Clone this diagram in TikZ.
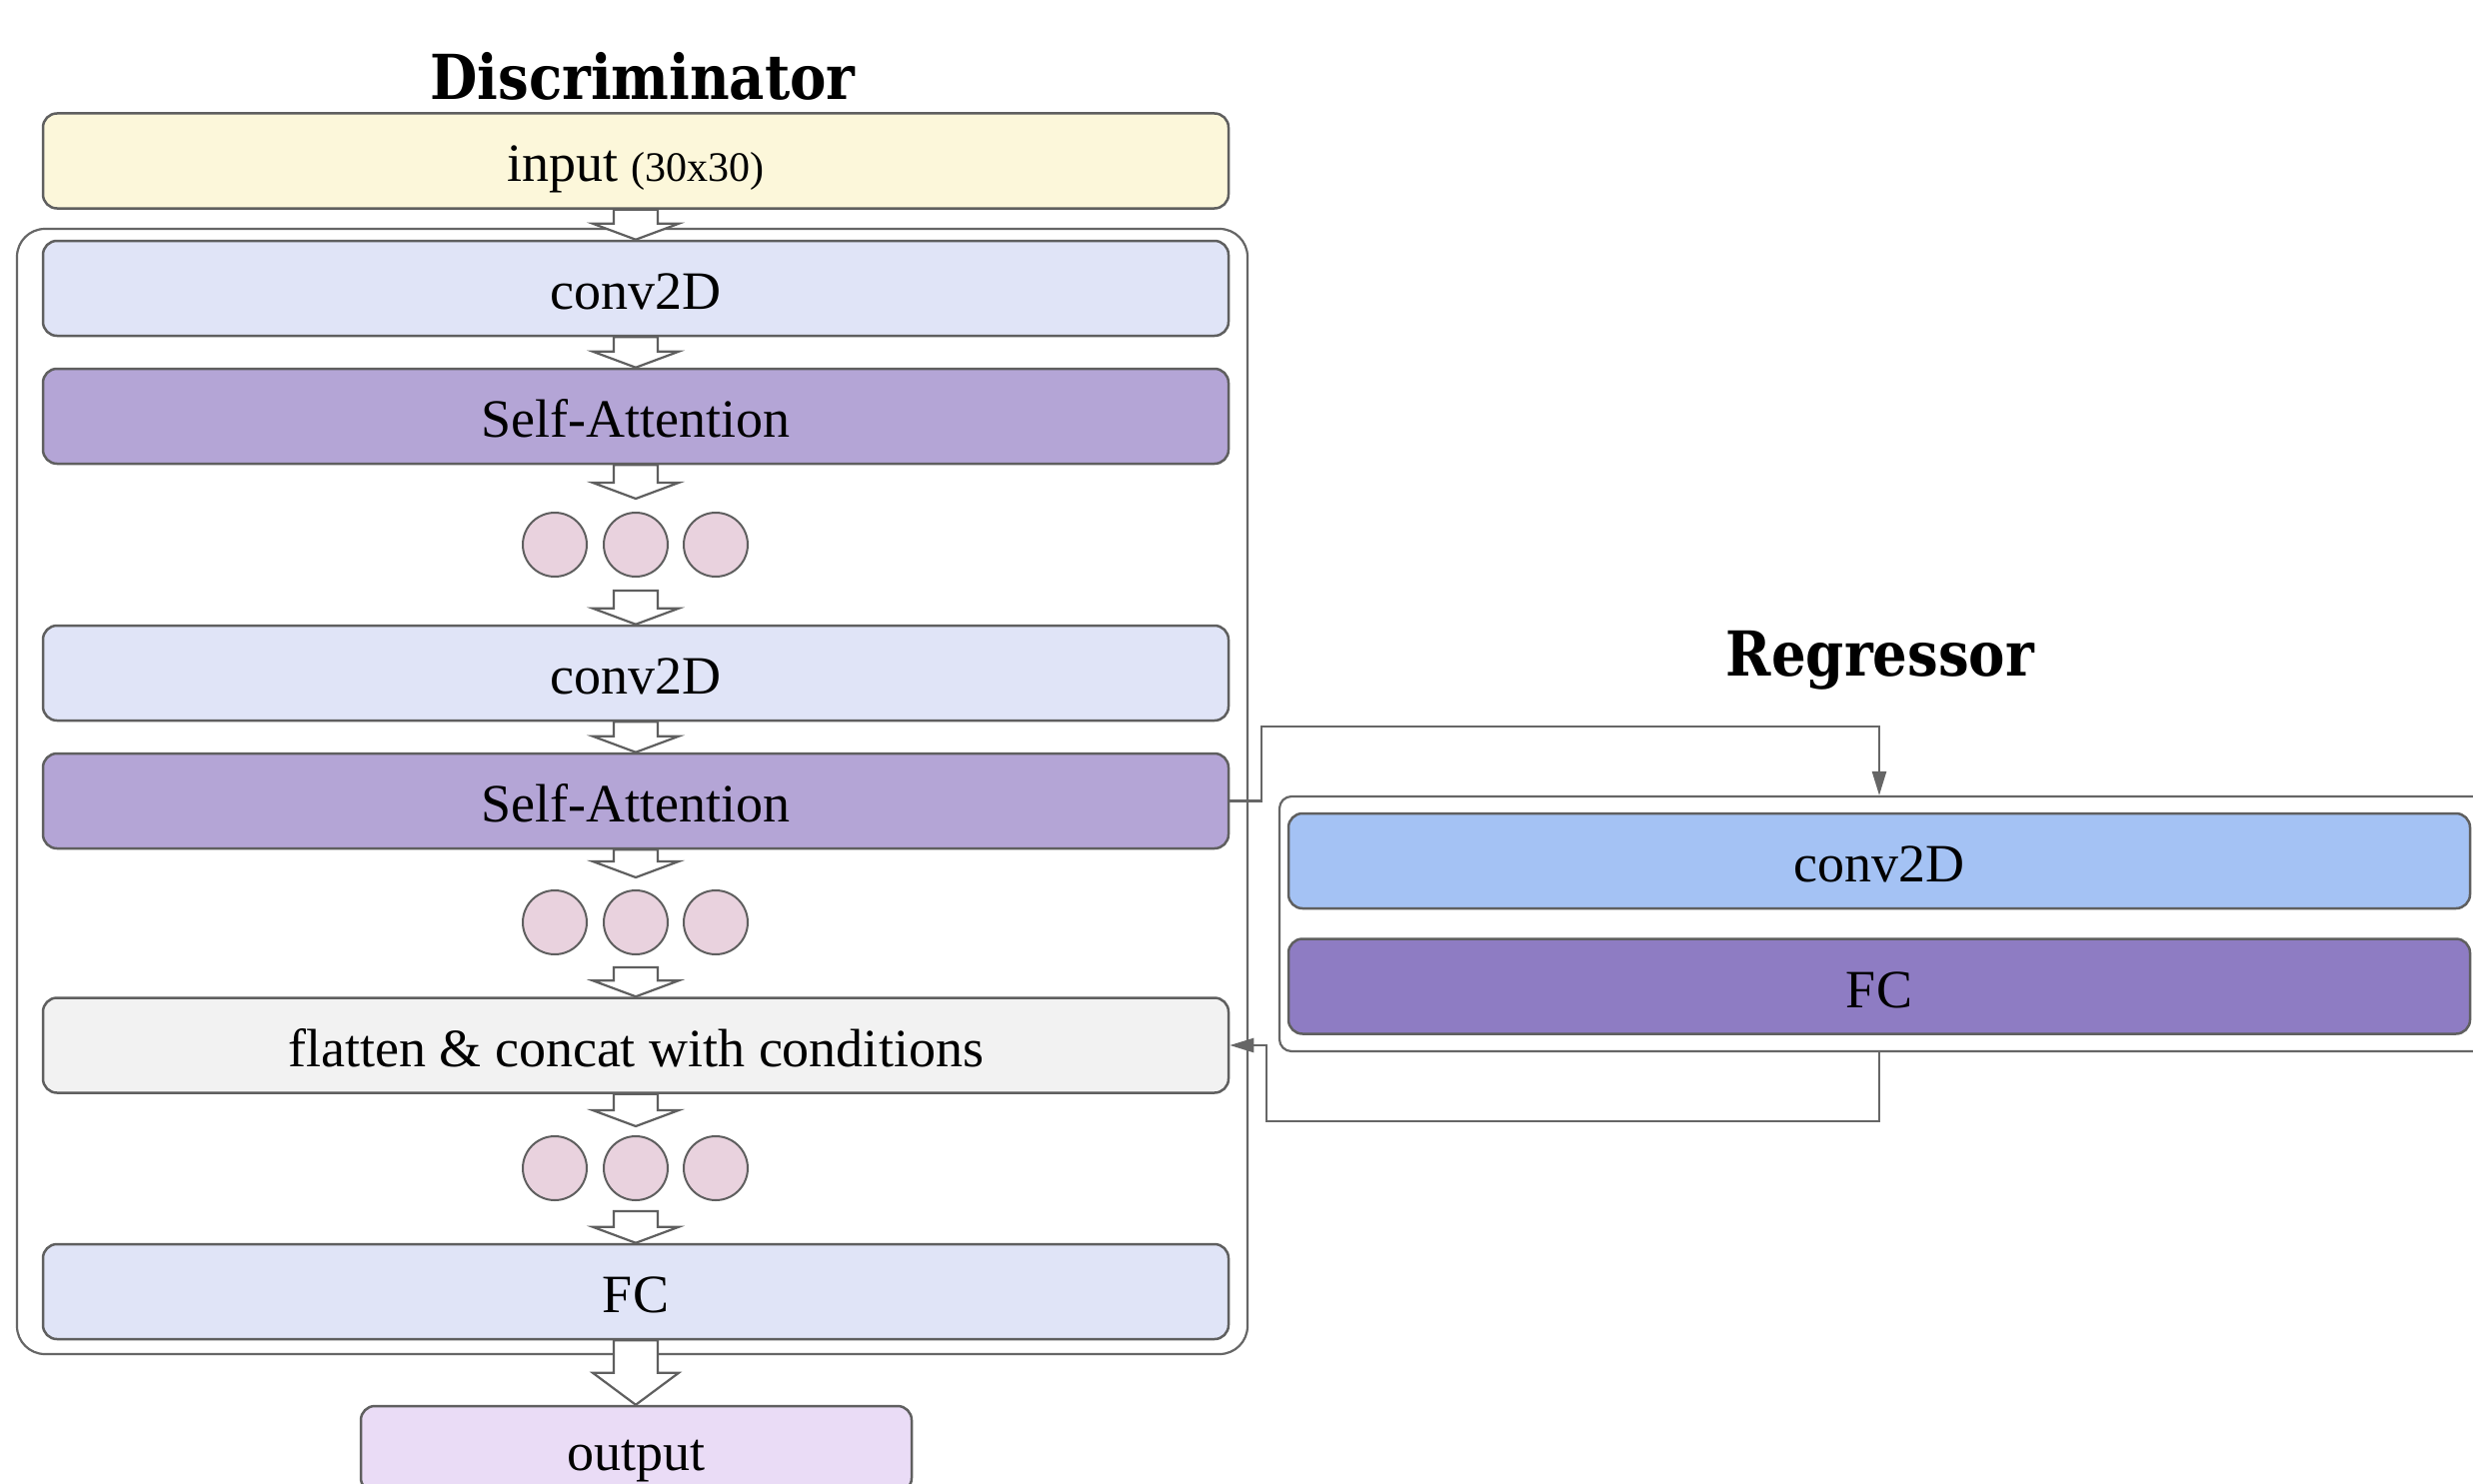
\documentclass[tikz,border=0pt]{standalone}
\usepackage{fontspec}
\setmainfont{Liberation Serif}
\newfontfamily\titlefont[FakeStretch=0.88]{DejaVu Serif}
\usetikzlibrary{calc,arrows.meta}
\definecolor{bordc}{HTML}{5F5F5F}
\definecolor{linec}{HTML}{666666}
\definecolor{inputc}{HTML}{FCF7DA}
\definecolor{convc}{HTML}{E0E4F7}
\definecolor{attc}{HTML}{B4A5D6}
\definecolor{dotc}{HTML}{E9D2DE}
\definecolor{flatc}{HTML}{F2F2F2}
\definecolor{outc}{HTML}{EADCF6}
\definecolor{rconvc}{HTML}{A4C2F4}
\definecolor{rfcc}{HTML}{8E7CC3}
\newcommand\hollowarrow[3]{%
  \draw[harrow] let \p1=#1, \p2=#2 in
    ({\x1-22pt},\y1) -- ({\x1-22pt},{\y2+#3}) -- ({\x1-43pt},{\y2+#3}) -- (\x1,\y2)
    -- ({\x1+43pt},{\y2+#3}) -- ({\x1+22pt},{\y2+#3}) -- ({\x1+22pt},\y1) -- cycle;}
\begin{document}
\begin{tikzpicture}[x=1pt,y=-1pt,
  box/.style={draw=bordc, line width=2.5pt, rounded corners=14pt, minimum width=1186pt,
    minimum height=95pt, inner sep=0pt, text height=42pt, text depth=0pt,
    font=\fontsize{54}{62}\selectfont},
  cont/.style={draw=linec, line width=2.2pt},
  dot/.style={circle, draw=bordc, line width=2pt, fill=dotc, minimum size=64pt, inner sep=0pt},
  harrow/.style={draw=bordc, fill=white, line width=2.2pt, line join=miter},
  conn/.style={draw=linec, line width=2.5pt, -{Triangle[length=24pt,width=14pt]}},
  ttl/.style={font=\titlefont\bfseries\fontsize{62}{70}\selectfont}]
\useasboundingbox (0,0) rectangle (2474,1485);
\fill[white] (0,0) rectangle (2474,1485);
% titles
\node[ttl] (tdisc) at (643,76) {Discriminator};
\node[ttl] (treg) at (1881,661) {Regressor};
% containers
\node[cont, rounded corners=28pt, minimum width=1231pt, minimum height=1126pt] (dcont) at (632.5,792) {};
\node[cont, rounded corners=12pt, minimum width=1220pt, minimum height=255pt] (regc) at (1890,924.5) {};
% discriminator boxes
\node[box, fill=inputc] (input) at (636,161) {input {\fontsize{42}{50}\selectfont(30x30)}};
\node[box, fill=convc] (conv1) at (636,288.5) {conv2D};
\node[box, fill=attc] (sa1) at (636,416.5) {Self-Attention};
\node[dot] (c1a) at (555,545) {};
\node[dot] (c1b) at (636,545) {};
\node[dot] (c1c) at (716,545) {};
\node[box, fill=convc] (conv2) at (636,673.5) {conv2D};
\node[box, fill=attc] (sa2) at (636,801.5) {Self-Attention};
\node[dot] (c2a) at (555,923) {};
\node[dot] (c2b) at (636,923) {};
\node[dot] (c2c) at (716,923) {};
\node[box, fill=flatc] (flat) at (636,1046) {flatten \& concat with conditions};
\node[dot] (c3a) at (555,1169) {};
\node[dot] (c3b) at (636,1169) {};
\node[dot] (c3c) at (716,1169) {};
\node[box, fill=convc] (fc) at (636,1292.5) {FC};
\node[box, fill=outc, minimum width=551pt, minimum height=86pt] (out) at (636.5,1450) {output};
% regressor boxes
\node[box, fill=rconvc, minimum width=1182pt] (rconv) at (1880,861.5) {conv2D};
\node[box, fill=rfcc, minimum width=1182pt] (rfc) at (1880,987) {FC};
% hollow arrows
\hollowarrow{(input.south)}{(conv1.north)}{16pt}
\hollowarrow{(conv1.south)}{(sa1.north)}{16pt}
\hollowarrow{(sa1.south)}{([yshift=13pt]c1b.north)}{16pt}
\hollowarrow{([yshift=-13pt]c1b.south)}{(conv2.north)}{16pt}
\hollowarrow{(conv2.south)}{(sa2.north)}{16pt}
\hollowarrow{(sa2.south)}{([yshift=12pt]c2b.north)}{16pt}
\hollowarrow{([yshift=-12pt]c2b.south)}{(flat.north)}{16pt}
\hollowarrow{(flat.south)}{([yshift=9pt]c3b.north)}{16pt}
\hollowarrow{([yshift=-10pt]c3b.south)}{(fc.north)}{16pt}
\hollowarrow{(fc.south)}{(out.north)}{32pt}
% connectors
\coordinate (j1) at (1262,801.5);
\coordinate (j2) at (1267,1122);
\draw[conn] (sa2.east) -- (j1) |- (rconv.north |- 0,727) -- (rconv.north |- regc.north);
\draw[conn] (rconv.south |- regc.south) |- (j2) |- (flat.east);
\end{tikzpicture}
\end{document}
